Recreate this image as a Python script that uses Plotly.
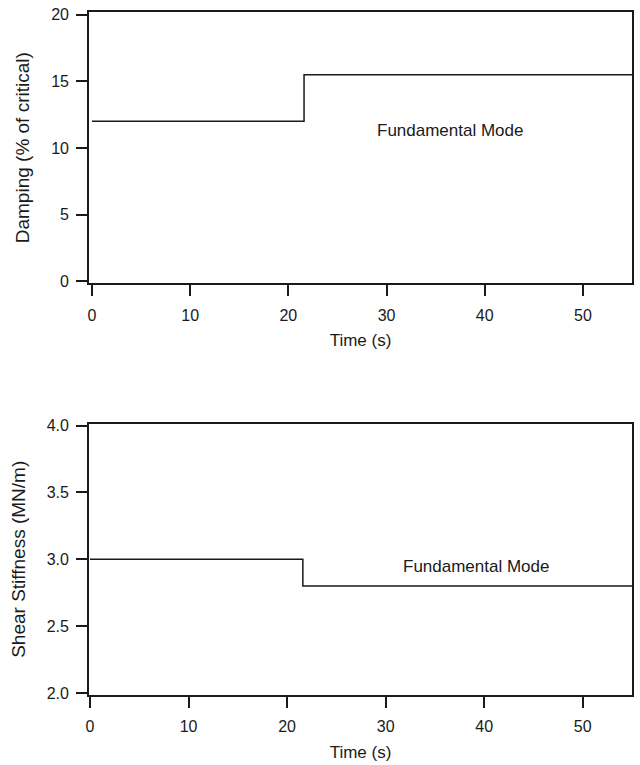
import plotly.graph_objects as go

# Step-wise identified modal properties over time
time_s = [0.0, 21.6, 55.0]
damping_pct = [12.0, 15.5, 15.5]
stiffness_mn_m = [3.0, 2.8, 2.8]

x_ticks = [0, 10, 20, 30, 40, 50]
damping_ticks = [0, 5, 10, 15, 20]
stiffness_ticks = [2.0, 2.5, 3.0, 3.5, 4.0]
stiffness_ticklabels = ["2.0", "2.5", "3.0", "3.5", "4.0"]

FONT = "Liberation Sans, Arial, sans-serif"
INK = "#1a1a1a"

# plotting-area geometry (pixels)
W, H = 640, 765
M_L, M_R, M_T, M_B = 89, 6, 8, 66
PLOT_H = H - M_T - M_B
BOTTOM_PX = H - M_B


def frac(px):
    """Convert a pixel row (from the top of the page) to a paper fraction."""
    return (BOTTOM_PX - px) / PLOT_H


TOP_DOMAIN = [frac(281), 1.0]
BOT_DOMAIN = [frac(695), frac(422)]
X_OFFSET = 1 / PLOT_H  # time axis sits just below the frame

X_RANGE_TOP = [-0.3, 55]
X_RANGE_BOT = [-0.1, 55]

fig = go.Figure()
fig.add_trace(go.Scatter(x=time_s, y=damping_pct, mode="lines", line=dict(shape="hv", color=INK, width=1.5),
                         xaxis="x", yaxis="y", showlegend=False, hoverinfo="skip"))
fig.add_trace(go.Scatter(x=time_s, y=stiffness_mn_m, mode="lines", line=dict(shape="hv", color=INK, width=1.5),
                         xaxis="x2", yaxis="y2", showlegend=False, hoverinfo="skip"))
# empty traces so the offset time axes get drawn
fig.add_trace(go.Scatter(x=[None], y=[None], xaxis="x3", yaxis="y", showlegend=False, hoverinfo="skip"))
fig.add_trace(go.Scatter(x=[None], y=[None], xaxis="x4", yaxis="y2", showlegend=False, hoverinfo="skip"))

frame = dict(showgrid=False, zeroline=False, showline=True, linecolor=INK, linewidth=1.7, mirror=True)
tick_font = dict(family=FONT, size=16, color=INK)
title_font = dict(family=FONT, size=17, color=INK)
ytitle_font = dict(family=FONT, size=19, color=INK)

y_common = dict(frame, ticks="outside", tickcolor=INK, tickwidth=1.6, ticklen=11,
                tickfont=tick_font, ticklabelstandoff=4)
x_frame = dict(frame, ticks="", showticklabels=False)
x_time = dict(showgrid=False, zeroline=False, showline=False, ticks="outside", tickcolor=INK,
              tickwidth=1.6, ticklen=11, tickfont=tick_font, ticklabelstandoff=5, tickvals=x_ticks,
              anchor="free")

fig.update_layout(
    width=W, height=H,
    margin=dict(l=M_L, r=M_R, t=M_T, b=M_B),
    paper_bgcolor="white", plot_bgcolor="white",
    font=dict(family=FONT, size=16, color=INK),
    xaxis=dict(x_frame, domain=[0, 1], anchor="y", range=X_RANGE_TOP),
    yaxis=dict(y_common, domain=TOP_DOMAIN, anchor="x", range=[-0.15, 20.2], tickvals=damping_ticks,
               title=dict(text="Damping (% of critical)", font=ytitle_font, standoff=16)),
    xaxis3=dict(x_time, overlaying="x", matches="x", range=X_RANGE_TOP,
                position=TOP_DOMAIN[0] - X_OFFSET,
                title=dict(text="Time (s)", font=title_font, standoff=11)),
    xaxis2=dict(x_frame, domain=[0, 1], anchor="y2", range=X_RANGE_BOT),
    yaxis2=dict(y_common, domain=BOT_DOMAIN, anchor="x2", range=[1.985, 4.015], tickvals=stiffness_ticks,
                ticktext=stiffness_ticklabels,
                title=dict(text="Shear Stiffness (MN/m)", font=ytitle_font, standoff=16)),
    xaxis4=dict(x_time, overlaying="x2", matches="x2", range=X_RANGE_BOT,
                position=max(BOT_DOMAIN[0] - X_OFFSET, 0),
                title=dict(text="Time (s)", font=title_font, standoff=11)),
    annotations=[
        dict(text="Fundamental Mode", x=36.5, y=11.3, xref="x", yref="y", showarrow=False,
             font=dict(family=FONT, size=17, color=INK)),
        dict(text="Fundamental Mode", x=39.2, y=2.95, xref="x2", yref="y2", showarrow=False,
             font=dict(family=FONT, size=17, color=INK)),
    ],
)

fig.write_html("out.html")
